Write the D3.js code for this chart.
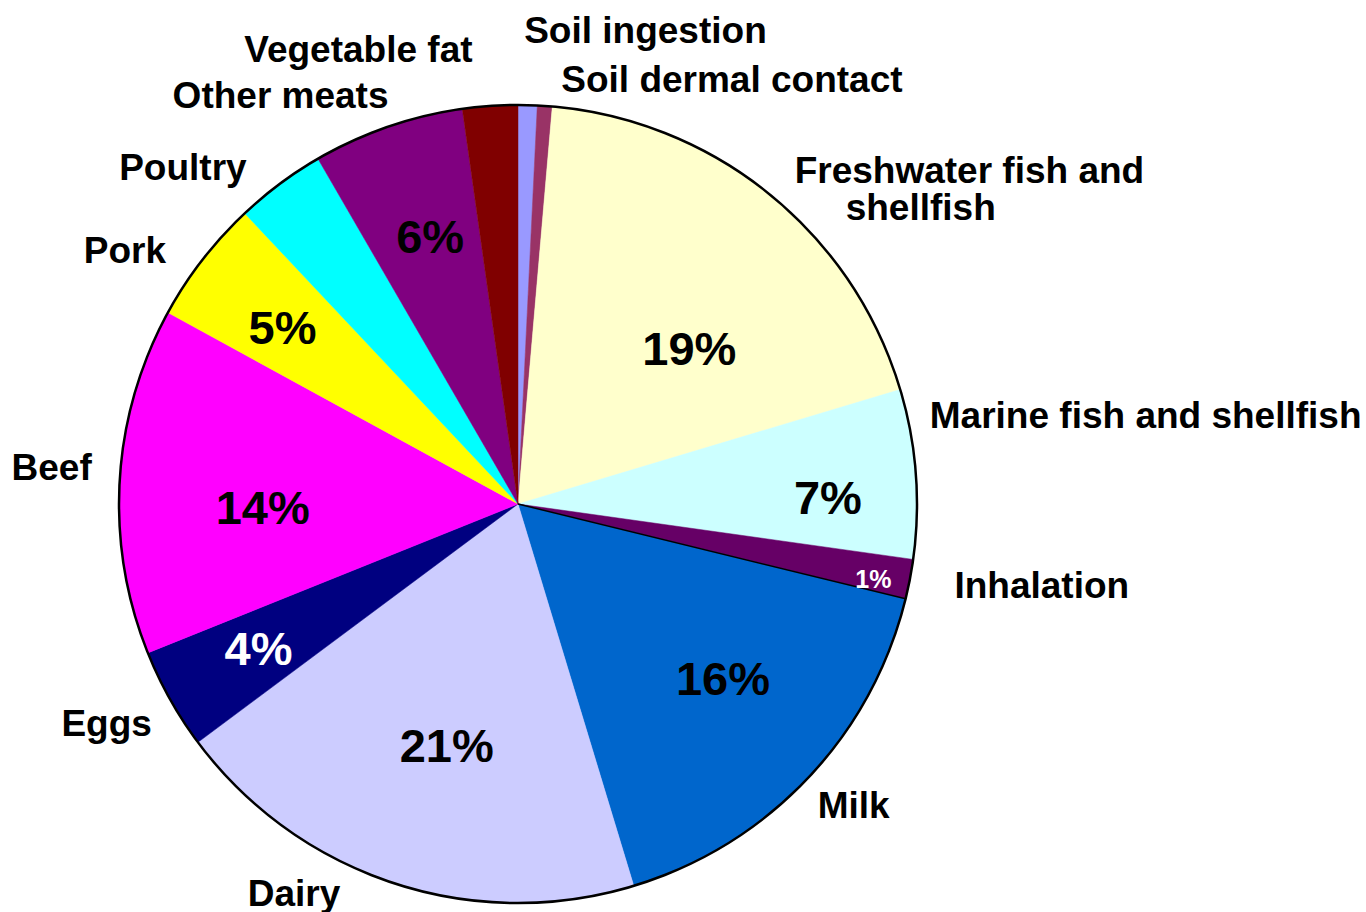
<!DOCTYPE html>
<html>
<head>
<meta charset="utf-8">
<script src="https://cdn.jsdelivr.net/npm/d3@7"></script>
<style>
  body { margin: 0; background: #fff; }
  svg text { font-family: "Liberation Sans", Arial, sans-serif; font-weight: bold; }
</style>
</head>
<body>
<svg id="chart"></svg>
<script>
// slices, clockwise from 12 o'clock
const categories = [
  'Soil ingestion', 'Soil dermal contact', 'Freshwater fish and shellfish',
  'Marine fish and shellfish', 'Inhalation', 'Milk', 'Dairy', 'Eggs',
  'Beef', 'Pork', 'Poultry', 'Other meats', 'Vegetable fat'
];
const values = [0.77, 0.60, 19.0, 6.85, 1.6, 16.5, 19.5, 4.1, 14.05, 5.03, 3.65, 6.13, 2.23];
const pctLabels = ['', '', '19%', '7%', '1%', '16%', '21%', '4%', '14%', '5%', '', '6%', ''];
const colors = [
  '#9999FF', '#993366', '#FFFFCC', '#CCFFFF', '#660066', '#0066CC', '#CCCCFF',
  '#000080', '#FF00FF', '#FFFF00', '#00FFFF', '#800080', '#800000'
];

// layout tweaks (Excel "best fit" placement)
// outer label: [dx, dy] from the point at r + 22 on the mid angle
const nameNudge = [
  [-4, -40], [15, 8], [11, 6], [-8, -44], [23, 15], [-6, 25], [-46, 2],
  [1, 26], [-6, 1], [-19, 17], [-20, 14], [8, 2], [-16, -22]
];
// percent label: [radius fraction, angle fraction inside slice]
const pctPlace = [
  [0, 0.5], [0, 0.5], [0.58, 0.626], [0.777, 0.626], [0.91, 0.675], [0.674, 0.448],
  [0.63, 0.475], [0.744, 0.517], [0.64, 0.42], [0.739, 0.46], [0.7, 0.5], [0.706, 0.54], [0.7, 0.5]
];
const whitePct = ['4%', '1%'];

const width = 1366, height = 912;
const cx = 518, cy = 504, radius = 399;

const svg = d3.select('#chart')
  .attr('width', width)
  .attr('height', height);

const root = svg.append('g')
  .attr('transform', `translate(${cx}, ${cy})`);

const pie = d3.pie().value(d => d).sort(null);
const arcs = pie(values);

const arc = d3.arc()
  .innerRadius(0)
  .outerRadius(radius);

root.selectAll('path.slice')
  .data(arcs)
  .enter()
  .append('path')
  .attr('class', 'slice')
  .attr('fill', (d, i) => colors[i])
  .attr('stroke', (d, i) => colors[i])
  .attr('stroke-width', 0.5)
  .attr('d', arc);

const polar = (a, r) => [r * Math.sin(a), -r * Math.cos(a)];

// dark edge under the inhalation slice
const inh = arcs[4];
const edge = polar(inh.endAngle, radius);
root.append('line')
  .attr('x1', 0).attr('y1', 0)
  .attr('x2', edge[0]).attr('y2', edge[1])
  .attr('stroke', '#000')
  .attr('stroke-width', 1.5);

// outline
root.append('circle')
  .attr('r', radius)
  .attr('fill', 'none')
  .attr('stroke', '#000')
  .attr('stroke-width', 2.5);

// percent labels
root.selectAll('text.pct')
  .data(arcs)
  .enter()
  .append('text')
  .attr('class', 'pct')
  .attr('text-anchor', 'middle')
  .attr('dy', '0.36em')
  .style('font-size', (d, i) => pctLabels[i] === '1%' ? '25px' : '47px')
  .attr('fill', (d, i) => whitePct.includes(pctLabels[i]) ? '#fff' : '#000')
  .attr('transform', (d, i) => {
    const [rf, af] = pctPlace[i];
    const a = d.startAngle + (d.endAngle - d.startAngle) * af;
    const p = polar(a, rf * radius);
    return `translate(${p[0]}, ${p[1]})`;
  })
  .text((d, i) => pctLabels[i]);

// category labels
const names = root.selectAll('text.name')
  .data(arcs)
  .enter()
  .append('text')
  .attr('class', 'name')
  .style('font-size', '37px')
  .attr('fill', '#000')
  .attr('text-anchor', d => (d.startAngle + d.endAngle) / 2 < Math.PI ? 'start' : 'end')
  .attr('x', (d, i) => polar((d.startAngle + d.endAngle) / 2, radius + 22)[0] + nameNudge[i][0])
  .attr('y', (d, i) => polar((d.startAngle + d.endAngle) / 2, radius + 22)[1] + nameNudge[i][1]);

names.each(function (d, i) {
  const t = d3.select(this);
  if (i === 2) {
    const x = +t.attr('x');
    t.append('tspan').attr('x', x).text('Freshwater fish and');
    t.append('tspan').attr('x', x + 51).attr('dy', 37).text('shellfish');
  } else {
    t.text(categories[i]);
  }
});
</script>
</body>
</html>
